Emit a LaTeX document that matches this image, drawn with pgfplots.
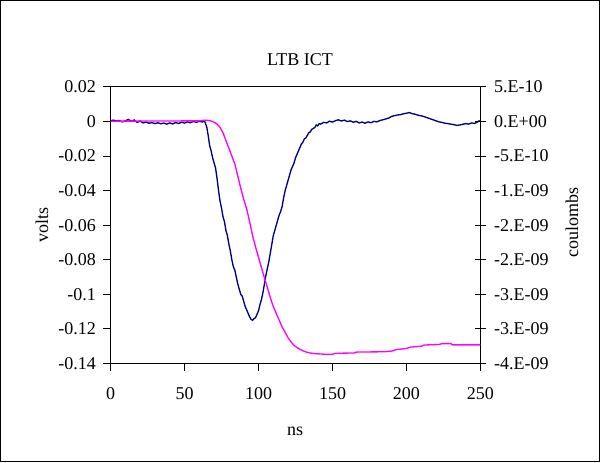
\documentclass[border=0pt]{standalone}
\usepackage{fontspec}
\setmainfont{Liberation Serif}
\usepackage{pgfplots}
\pgfplotsset{compat=1.18}
\definecolor{navyline}{RGB}{0,0,128}
\definecolor{magline}{RGB}{255,0,255}
\begin{document}
\fontsize{13.5}{16}\selectfont
\begin{tikzpicture}[x=1pt,y=1pt]
\begin{axis}[
  at={(82.875pt,73.875pt)}, anchor=south west,
  scale only axis, width=277.5pt, height=207.4pt,
  xmin=0, xmax=250, ymin=-0.14, ymax=0.02,
  xtick={0,50,100,150,200,250},
  xticklabels={0,50,100,150,200,250},
  ytick={-0.14,-0.12,-0.1,-0.08,-0.06,-0.04,-0.02,0,0.02},
  yticklabels={-0.14,-0.12,-0.1,-0.08,-0.06,-0.04,-0.02,0,0.02},
  xtick pos=bottom, ytick pos=left,
  tick align=outside, major tick length=5.25pt,
  tick style={black, line width=0.75pt},
  axis line style={black, line width=0.75pt},
  ticklabel style={font=\fontsize{13.5}{16}\selectfont},
  xticklabel style={yshift=-8pt},
  yticklabel style={xshift=-1pt},
  clip=false,
]
\addplot[navyline, line width=1pt] table {
0 0.0005
2 0.0008
4 0.0003
6 0.0006
8 -0.0002
10 0.0004
12 0.0012
14 0.0002
16 0.0009
18 -0.0005
20 0.0003
22 -0.0008
24 -0.0003
26 -0.0010
28 -0.0006
30 -0.0012
32 -0.0007
34 -0.0013
36 -0.0009
38 -0.0015
40 -0.0008
42 -0.0014
44 -0.0006
46 -0.0011
48 -0.0004
50 -0.0009
52 -0.0002
54 -0.0007
56 0.0001
58 -0.0005
60 0.0002
62 -0.0003
63.5 0.0004
65 -0.003
66 -0.008
67 -0.014
68 -0.017
69 -0.021
70 -0.024
71 -0.027
72 -0.033
73 -0.040
74 -0.046
75 -0.050
76 -0.055
77 -0.058
78 -0.063
79 -0.066
80 -0.071
81 -0.075
82 -0.080
83 -0.084
84 -0.086
85 -0.090
86 -0.094
87 -0.097
88 -0.100
89 -0.101
90 -0.104
91 -0.107
92 -0.109
93 -0.111
94 -0.113
95 -0.1145
96 -0.1150
97 -0.1140
98 -0.1135
99 -0.1115
100 -0.1095
101 -0.106
102 -0.103
103 -0.099
104 -0.094
105 -0.089
106 -0.085
107 -0.081
108 -0.076
109 -0.071
110 -0.066
111 -0.063
112 -0.060
113 -0.057
114 -0.054
115 -0.052
116 -0.049
117 -0.044
118 -0.040
119 -0.037
120 -0.034
121 -0.031
122 -0.028
123 -0.026
124 -0.024
125 -0.021
126 -0.019
127 -0.017
128 -0.015
129 -0.013
130 -0.012
131 -0.010
132 -0.0095
133 -0.008
134 -0.0065
135 -0.006
136 -0.0045
137 -0.004
138 -0.0035
139 -0.002
140 -0.0025
141 -0.0012
142 -0.0015
144 -0.0005
146 -0.0008
148 0.0002
150 -0.0003
152 0.0005
154 0.0010
156 0.0003
158 0.0008
160 0.0000
162 0.0004
164 -0.0004
166 0.0001
168 -0.0008
170 -0.0003
172 -0.0010
174 -0.0002
176 -0.0007
178 0.0001
180 -0.0002
182 0.0006
184 0.0010
186 0.0015
188 0.0020
190 0.0030
192 0.0034
194 0.0038
196 0.0040
198 0.0045
200 0.0048
202 0.0052
204 0.0045
206 0.0042
208 0.0036
210 0.0033
212 0.0028
214 0.0022
216 0.0016
218 0.0010
220 0.0004
222 -0.0002
224 -0.0005
226 -0.0010
228 -0.0012
230 -0.0015
232 -0.0018
234 -0.0022
236 -0.0020
238 -0.0016
240 -0.0012
242 -0.0015
244 -0.0008
246 -0.0011
248 -0.0002
249 0.0004
250 0.0002
};
\end{axis}
\begin{axis}[
  at={(82.875pt,73.875pt)}, anchor=south west,
  scale only axis, width=277.5pt, height=207.4pt,
  xmin=0, xmax=250, ymin=-3.5e-9, ymax=5e-10,
  axis x line=none, axis y line*=right,
  ytick={-3.5e-9,-3e-9,-2.5e-9,-2e-9,-1.5e-9,-1e-9,-5e-10,0,5e-10},
  yticklabels={-4.E-09,-3.E-09,-3.E-09,-2.E-09,-2.E-09,-1.E-09,-5.E-10,0.E+00,5.E-10},
  tick align=center, major tick length=8pt,
  tick style={black, line width=0.75pt},
  axis line style={black, line width=0.75pt},
  ticklabel style={font=\fontsize{13.5}{16}\selectfont},
  yticklabel style={xshift=1.5pt},
  scaled y ticks=false,
]
\addplot[magline, line width=1pt] table {
0 5e-12
60 1e-11
64 2e-11
66 1.75e-11
68 7.5e-12
70 -1e-11
72 -3.75e-11
74 -8.25e-11
76 -1.625e-10
78 -2.75e-10
80 -3.875e-10
82 -5.0e-10
84 -6.125e-10
86 -7.875e-10
88 -9.625e-10
90 -1.125e-9
92 -1.2625e-9
94 -1.45e-9
96 -1.65e-9
98 -1.8125e-9
100 -1.9625e-9
102 -2.1125e-9
104 -2.2625e-9
106 -2.4e-9
108 -2.55e-9
110 -2.675e-9
112 -2.775e-9
114 -2.875e-9
116 -2.975e-9
118 -3.05e-9
120 -3.13e-9
122 -3.1875e-9
124 -3.2375e-9
126 -3.27e-9
128 -3.295e-9
131 -3.325e-9
134 -3.345e-9
138 -3.3575e-9
144 -3.365e-9
150 -3.365e-9
152 -3.3525e-9
165 -3.3475e-9
166 -3.335e-9
185 -3.33e-9
190 -3.32e-9
193 -3.30e-9
200 -3.2825e-9
203 -3.2625e-9
210 -3.25e-9
212 -3.2325e-9
222 -3.225e-9
224 -3.2125e-9
230 -3.2125e-9
231 -3.23e-9
250 -3.23e-9
};
\end{axis}
\node at (225pt,301.5pt) {LTB ICT};
\node[rotate=90] at (31.5pt,177.75pt) {volts};
\node[rotate=90] at (429pt,180pt) {coulombs};
\node at (221.25pt,23.25pt) {ns};
\draw[black,line width=0.75pt] (0.375pt,0.375pt) rectangle (449.625pt,346.125pt);
\end{tikzpicture}
\end{document}
